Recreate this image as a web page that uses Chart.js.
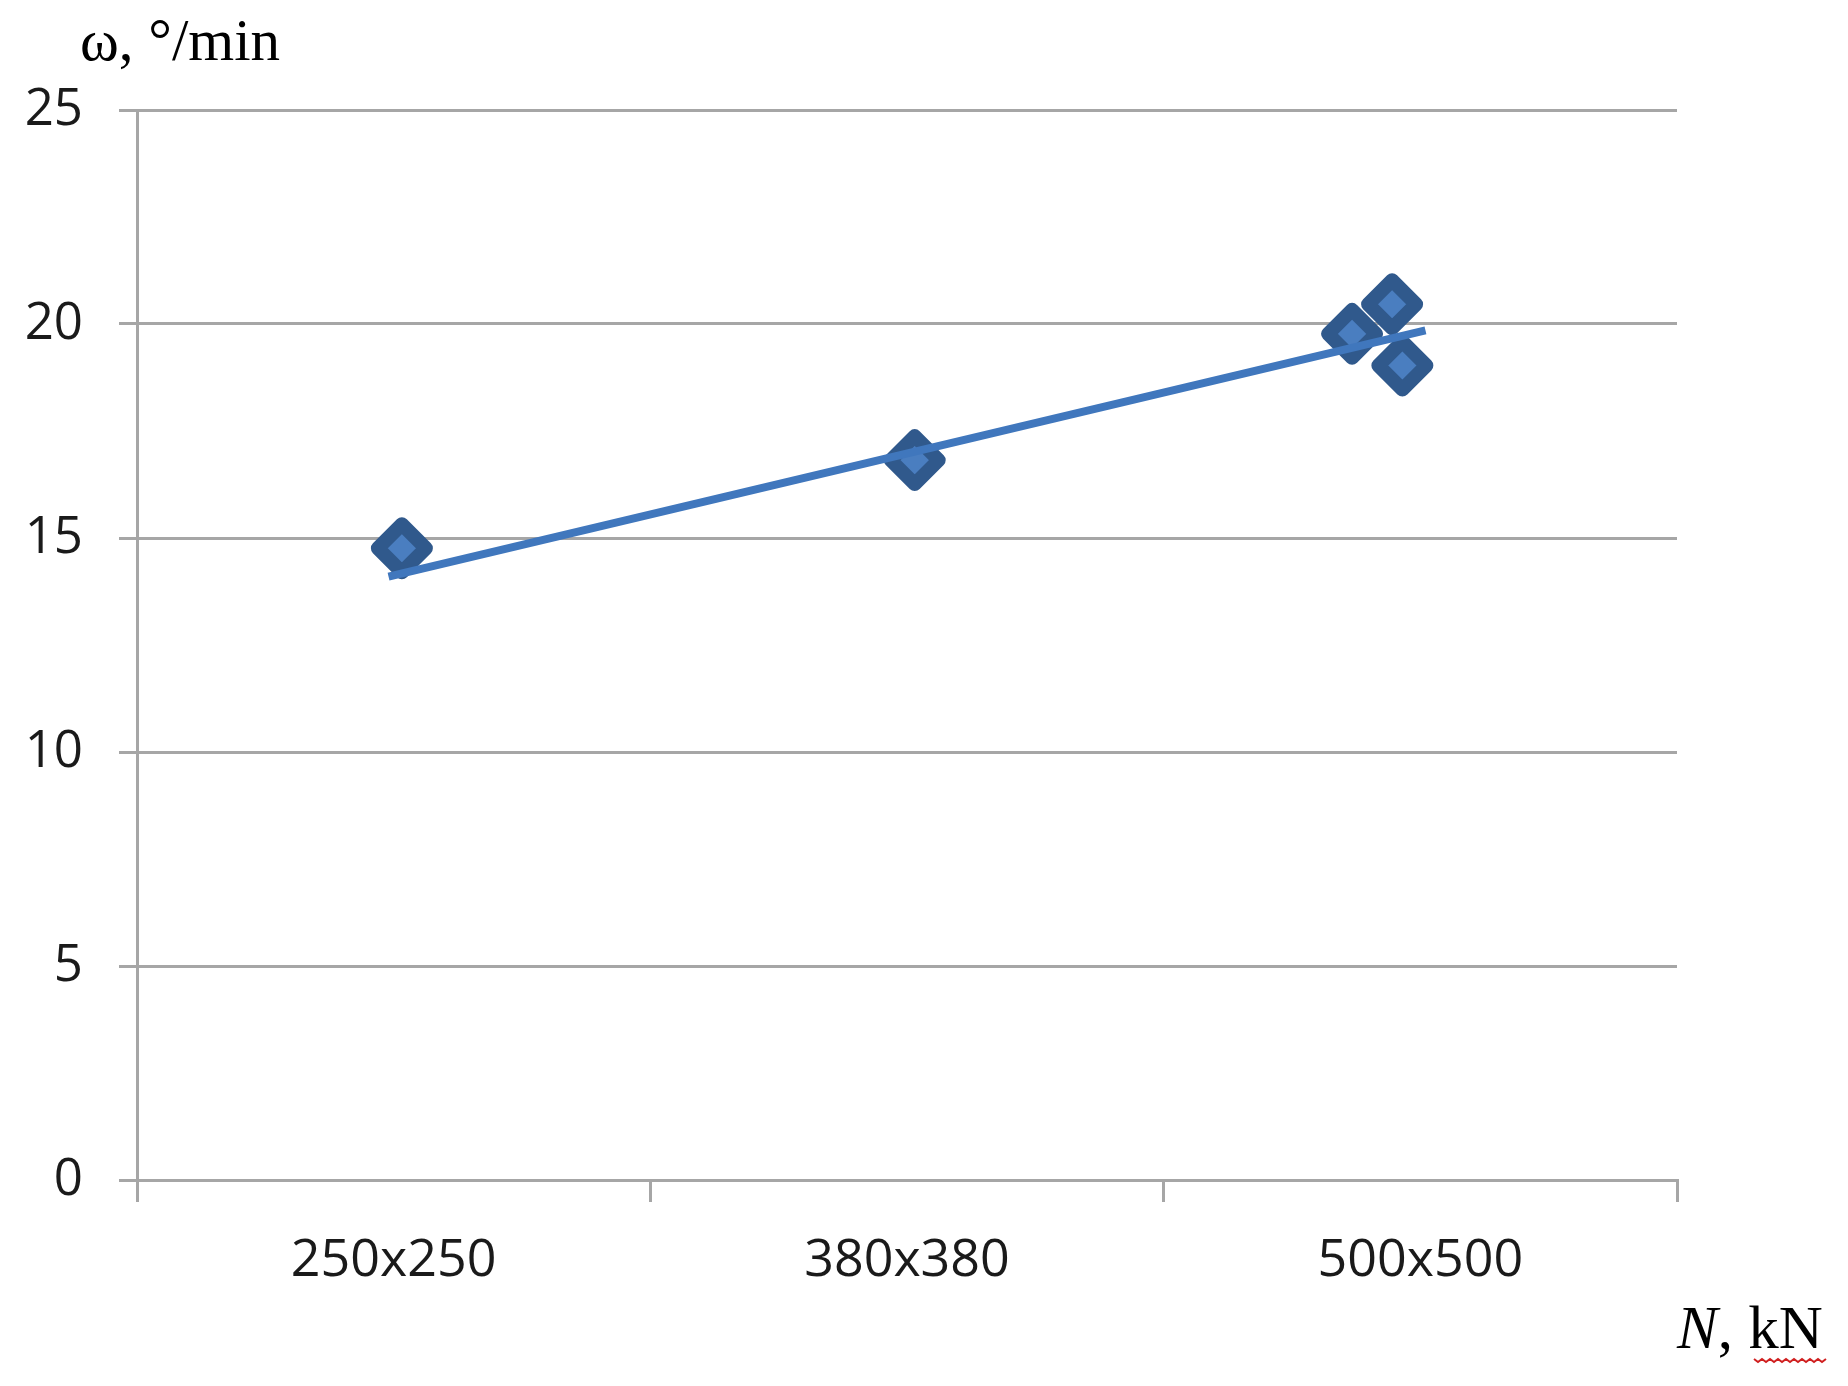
<!DOCTYPE html>
<html>
<head>
<meta charset="utf-8">
<script src="https://cdn.jsdelivr.net/npm/chart.js@4"></script>
<style>
    html, body { margin: 0; padding: 0; background: #fff; }
    #wrap { width: 1848px; height: 1386px; position: relative; }
</style>
</head>
<body>
<div id="wrap"><canvas id="myChart" width="1848" height="1386"></canvas></div>
<script>
    // categorias del eje X (cada una ocupa una unidad del eje)
    var categories = ['250x250', '380x380', '500x500'];
    // puntos medidos: posicion en unidades de categoria y omega (°/min)
    var pointX = [0.516, 1.515, 2.367, 2.445, 2.465];
    var omega = [14.76, 16.82, 19.77, 20.46, 19.03];
    // linea de tendencia, extremos
    var trendX = [0.49, 2.51];
    var trendY = [14.1, 19.85];
    // marcas del eje Y
    var yTicks = [0, 5, 10, 15, 20, 25];

    var gridGray = '#a6a6a6';

    // esquinas redondeadas en los marcadores
    var roundJoins = {
        id: 'roundJoins',
        beforeDatasetsDraw: function (chart) {
            chart.ctx.save();
            chart.ctx.lineJoin = 'round';
        },
        afterDatasetsDraw: function (chart) {
            chart.ctx.restore();
        }
    };

    // Titulos de los ejes, dibujados sobre el canvas
    var axisTitles = {
        id: 'axisTitles',
        afterDraw: function (chart) {
            var ctx = chart.ctx;
            ctx.save();
            ctx.fillStyle = '#000';
            ctx.textBaseline = 'alphabetic';
            ctx.font = '59px "Liberation Serif"';
            ctx.fillText('ω, °/min', 80, 60);

            ctx.font = 'italic 61px "Liberation Serif"';
            ctx.fillText('N', 1677, 1348);
            var w = ctx.measureText('N').width;
            ctx.font = '61px "Liberation Serif"';
            ctx.fillText(', kN', 1677 + w, 1348);

            // subrayado ondulado rojo del corrector
            ctx.strokeStyle = '#d02020';
            ctx.lineWidth = 2;
            ctx.beginPath();
            for (var x = 1754, i = 0; x <= 1829; x += 4, i++) {
                var y = 1359 + (i % 2 === 0 ? 0 : 3);
                if (i === 0) ctx.moveTo(x, y); else ctx.lineTo(x, y);
            }
            ctx.stroke();
            ctx.restore();
        }
    };

    var config = {
        type: 'scatter',
        data: {
            datasets: [{
                label: 'trend',
                type: 'line',
                data: trendX.map((x, i) => ({ x: x, y: trendY[i] })),
                borderColor: '#4077bd',
                borderWidth: 8,
                borderCapStyle: 'butt',
                pointRadius: 0,
                fill: false,
                order: 0
            }, {
                label: 'omega',
                data: pointX.map((x, i) => ({ x: x, y: omega[i] })),
                pointStyle: 'rectRot',
                pointRadius: 24,
                pointHoverRadius: 24,
                pointBorderWidth: 14,
                pointBackgroundColor: '#4a7ec0',
                pointBorderColor: '#30598c',
                order: 1
            }]
        },
        options: {
            responsive: false,
            animation: false,
            events: [],
            layout: { padding: { top: 110, right: 171, bottom: 0, left: 0 } },
            plugins: { legend: { display: false }, tooltip: { enabled: false } },
            scales: {
                x: {
                    type: 'linear',
                    min: 0,
                    max: categories.length,
                    afterBuildTicks: function (axis) {
                        var t = [];
                        for (var i = 0; i <= categories.length * 2; i++) t.push({ value: i / 2 });
                        axis.ticks = t;
                    },
                    afterFit: function (axis) { axis.height = 1386 - 1180; },
                    ticks: {
                        autoSkip: false,
                        maxRotation: 0,
                        padding: 28,
                        color: '#1a1a1a',
                        font: { family: 'Open Sans', size: 52 },
                        callback: function (v) {
                            return (v % 1 !== 0) ? categories[Math.floor(v)] : '';
                        }
                    },
                    grid: {
                        drawOnChartArea: false,
                        tickLength: 22,
                        lineWidth: 3,
                        tickColor: function (ctx) {
                            return (ctx.tick && ctx.tick.value % 1 === 0) ? gridGray : 'rgba(0,0,0,0)';
                        }
                    },
                    border: { display: true, color: gridGray, width: 3 }
                },
                y: {
                    min: 0,
                    max: 25,
                    afterBuildTicks: function (axis) {
                        axis.ticks = yTicks.map(v => ({ value: v }));
                    },
                    afterFit: function (axis) { axis.width = 137; },
                    ticks: {
                        padding: 36,
                        color: '#1a1a1a',
                        font: { family: 'Open Sans', size: 51 }
                    },
                    grid: {
                        color: gridGray,
                        lineWidth: 3,
                        tickLength: 18
                    },
                    border: { display: true, color: gridGray, width: 3 }
                }
            }
        },
        plugins: [roundJoins, axisTitles]
    };

    var myChart = new Chart(document.getElementById('myChart'), config);
</script>
</body>
</html>
